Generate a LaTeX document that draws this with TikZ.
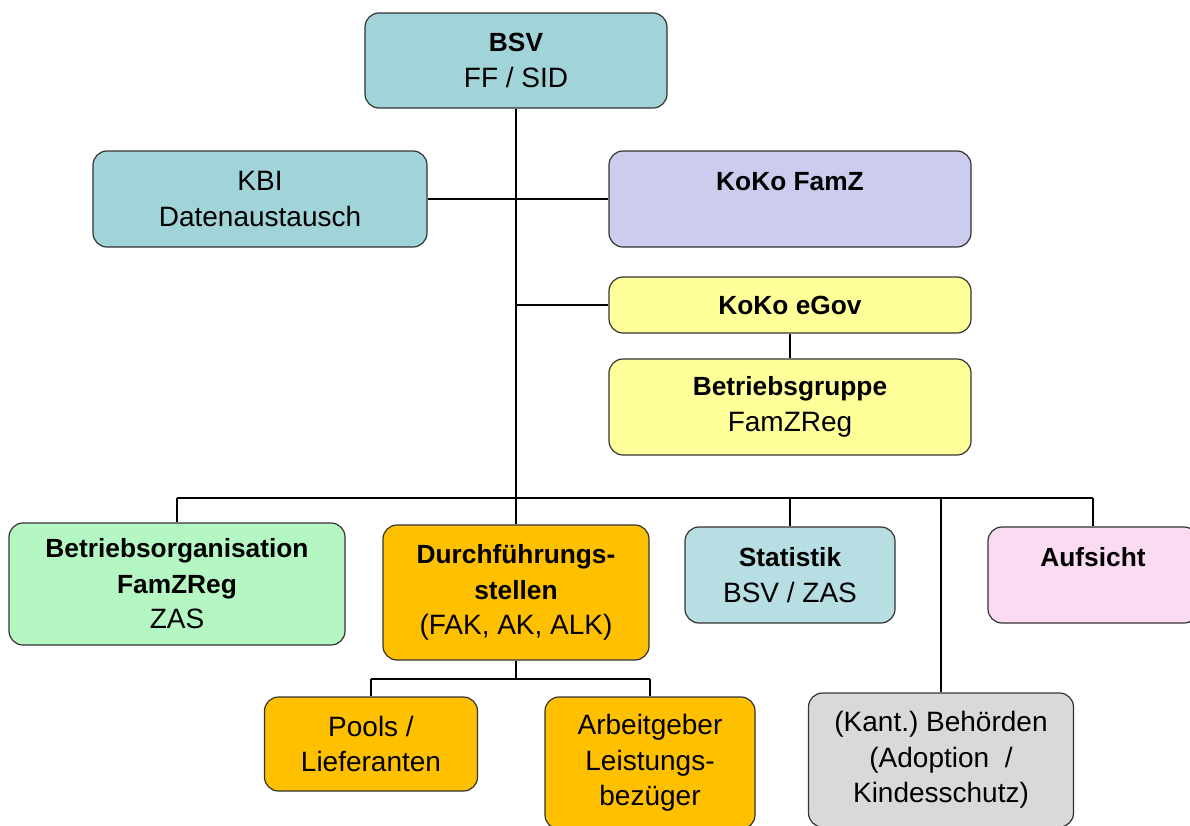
\documentclass[tikz,border=0pt]{standalone}
\usepackage{fontspec}
\setmainfont{Liberation Sans}
\definecolor{tealc}{HTML}{A0D4D9}
\definecolor{statc}{HTML}{B7DFE3}
\definecolor{famzc}{HTML}{CCCCEE}
\definecolor{yelc}{HTML}{FFFF99}
\definecolor{greenc}{HTML}{B4F7C2}
\definecolor{orangec}{HTML}{FFC000}
\definecolor{pinkc}{HTML}{FBDBF2}
\definecolor{grayc}{HTML}{D9D9D9}
\newcommand{\bt}[1]{{\fontsize{26.3}{35.5}\selectfont\bfseries #1}}
\begin{document}
\begin{tikzpicture}[x=1pt,y=-1pt,
  box/.style={draw=black!80, line width=1.2pt, rounded corners=14pt, align=center,
    inner sep=0pt, font=\fontsize{28}{35.5}\selectfont\frenchspacing},
  conn/.style={line width=1.3pt, black}]
\useasboundingbox (0,0) rectangle (1190,825);

\node[box, fill=tealc, minimum width=302pt, minimum height=95pt] (bsv) at (516,60.5) {\bt{BSV}\\FF / SID};
\node[box, fill=tealc, minimum width=334pt, minimum height=96pt] (kbi) at (260,199) {KBI\\Datenaustausch};
\node[box, fill=famzc, minimum width=362pt, minimum height=96pt] (famz) at (790,199) {\bt{KoKo FamZ}\\\mbox{}};
\node[box, fill=yelc, minimum width=362pt, minimum height=56pt] (egov) at (790,305) {\bt{KoKo eGov}};
\node[box, fill=yelc, minimum width=362pt, minimum height=96pt] (bgr) at (790,407) {\bt{Betriebsgruppe}\\FamZReg};

\node[box, fill=greenc, minimum width=336pt, minimum height=122pt] (borg) at (177,584) {\bt{Betriebsorganisation}\\\bt{FamZReg}\\ZAS};
\node[box, fill=orangec, minimum width=266pt, minimum height=135pt] (durch) at (516,592.5) {\bt{Durchführungs-}\\\bt{stellen}\\(FAK, AK, ALK)};
\node[box, fill=statc, minimum width=210pt, minimum height=96pt] (stat) at (790,575) {\bt{Statistik}\\BSV / ZAS};
\node[box, fill=pinkc, minimum width=210pt, minimum height=96pt] (aufs) at (1093,575) {\bt{Aufsicht}\\\mbox{}};

\node[box, fill=orangec, minimum width=213pt, minimum height=94pt] (pools) at (371,744) {Pools /\\Lieferanten};
\node[box, fill=orangec, minimum width=210pt, minimum height=132pt] (arb) at (650,763) {Arbeitgeber\\Leistungs-\\bezüger};
\node[box, fill=grayc, minimum width=265pt, minimum height=134pt] (beh) at (941,760) {(Kant.) Behörden\\(Adoption~ /\\Kindesschutz)};

\coordinate (t1) at (516,305);
\coordinate (t2) at (516,498);
\coordinate (t3) at (516,679);

\draw[conn] (bsv.south) -- (t2);
\draw[conn] (kbi.east) -- (famz.west);
\draw[conn] (t1) -- (egov.west);
\draw[conn] (egov.south) -- (bgr.north);
\draw[conn] (borg.north |- t2) -- (aufs.north |- t2);
\draw[conn] (borg.north |- t2) -- (borg.north);
\draw[conn] (t2) -- (durch.north);
\draw[conn] (stat.north |- t2) -- (stat.north);
\draw[conn] (beh.north |- t2) -- (beh.north);
\draw[conn] (aufs.north |- t2) -- (aufs.north);
\draw[conn] (durch.south) -- (t3);
\draw[conn] (pools.north |- t3) -- (arb.north |- t3);
\draw[conn] (pools.north |- t3) -- (pools.north);
\draw[conn] (arb.north |- t3) -- (arb.north);
\end{tikzpicture}
\end{document}
